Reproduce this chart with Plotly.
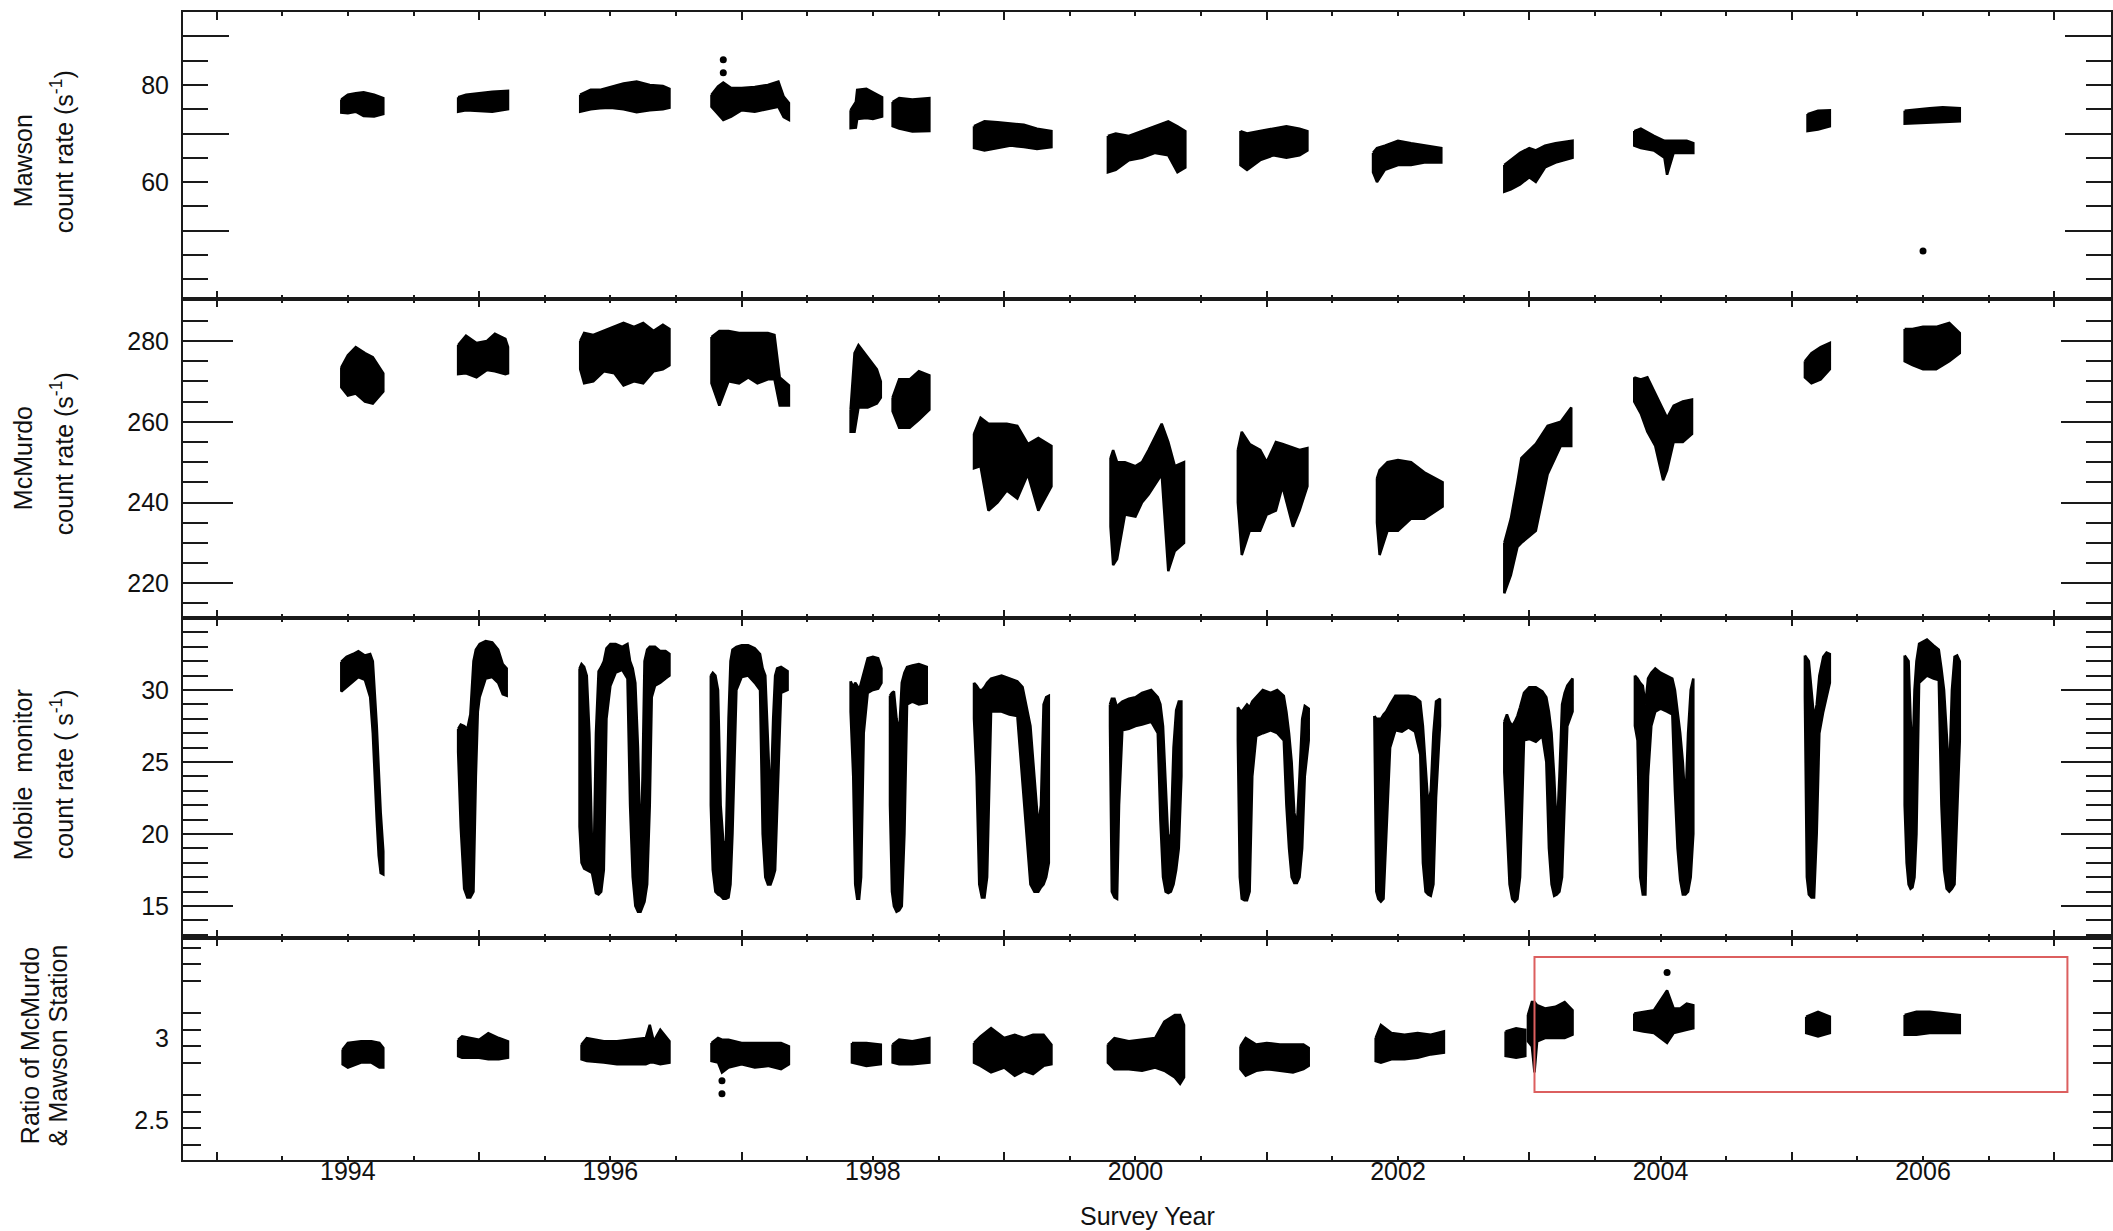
import plotly.graph_objects as go

# Count-rate bands for each survey season: decimal year, low and high of the
# scatter at that time.  None separates one season from the next.

mawson_time = [1993.95, 1994.0, 1994.06, 1994.12, 1994.2, 1994.27, None,
               1994.84, 1994.9, 1995.0, 1995.1, 1995.22, None,
               1995.77, 1995.85, 1995.92, 1996.0, 1996.1, 1996.2, 1996.3, 1996.4, 1996.45, None,
               1996.77, 1996.82, 1996.86, 1996.92, 1997.0, 1997.1, 1997.2, 1997.28, 1997.32, 1997.36, None,
               1997.83, 1997.87, 1997.88, 1997.95, 1998.0, 1998.07, None,
               1998.15, 1998.2, 1998.3, 1998.43, None,
               1998.77, 1998.85, 1998.95, 1999.05, 1999.15, 1999.25, 1999.36, None,
               1999.79, 1999.85, 1999.95, 2000.05, 2000.15, 2000.25, 2000.32, 2000.38, None,
               2000.8, 2000.85, 2000.95, 2001.05, 2001.15, 2001.25, 2001.31, None,
               2001.81, 2001.84, 2001.9, 2002.0, 2002.1, 2002.2, 2002.33, None,
               2002.81, 2002.86, 2002.93, 2003.0, 2003.05, 2003.12, 2003.2, 2003.33, None,
               2003.8, 2003.85, 2003.95, 2004.03, 2004.05, 2004.1, 2004.2, 2004.25, None,
               2005.12, 2005.2, 2005.29, None,
               2005.86, 2005.95, 2006.05, 2006.15, 2006.28]
mawson_low = [74.3, 74.2, 74.5, 73.6, 73.5, 74.0, None,
              74.5, 74.8, 74.6, 74.5, 75.0, None,
              74.5, 75.0, 75.2, 75.3, 75.0, 74.4, 74.8, 75.0, 75.3, None,
              75.5, 74.0, 72.8, 73.5, 74.8, 74.5, 75.0, 75.5, 73.4, 72.8, None,
              71.1, 71.2, 73.0, 73.2, 73.0, 73.5, None,
              71.5, 71.0, 70.4, 70.5, None,
              67.0, 66.5, 67.0, 67.5, 67.2, 66.8, 67.2, None,
              62.0, 62.5, 64.5, 65.0, 66.0, 65.5, 62.0, 63.0, None,
              63.5, 62.5, 64.5, 65.5, 65.0, 65.5, 66.5, None,
              62.0, 60.0, 62.5, 63.5, 63.5, 64.0, 64.0, None,
              58.0, 58.5, 59.5, 61.0, 60.0, 63.0, 64.0, 65.0, None,
              67.5, 67.0, 66.5, 65.0, 61.5, 66.0, 66.0, 66.0, None,
              70.5, 70.8, 71.5, None,
              72.0, 72.0, 72.2, 72.3, 72.5]
mawson_high = [77.0, 78.0, 78.3, 78.5, 78.0, 77.3, None,
               77.5, 78.0, 78.3, 78.6, 78.8, None,
               78.0, 79.0, 79.0, 79.6, 80.3, 80.7, 80.0, 79.8, 79.2, None,
               78.0, 79.7, 80.5, 79.4, 79.4, 79.6, 80.0, 80.7, 77.6, 76.3, None,
               74.8, 76.5, 79.0, 79.2, 78.5, 77.5, None,
               76.5, 77.3, 77.0, 77.3, None,
               71.5, 72.5, 72.3, 72.0, 71.8, 71.0, 70.5, None,
               69.5, 70.0, 69.5, 70.5, 71.5, 72.5, 71.5, 70.5, None,
               70.5, 70.0, 70.5, 71.0, 71.5, 71.0, 70.5, None,
               66.0, 67.0, 67.5, 68.5, 68.0, 67.5, 67.0, None,
               63.5, 64.5, 66.0, 67.0, 66.5, 67.5, 68.0, 68.5, None,
               70.5, 71.0, 69.5, 68.5, 68.5, 68.5, 68.5, 68.0, None,
               74.0, 74.7, 74.8, None,
               74.7, 75.0, 75.2, 75.4, 75.2]
mawson_spike_time = [1996.86, 1996.86, 2006.0]
mawson_spike_rate = [85.2, 82.5, 45.8]

mcmurdo_time = [1993.95, 1994.0, 1994.06, 1994.13, 1994.19, 1994.27, None,
                1994.84, 1994.9, 1994.98, 1995.06, 1995.12, 1995.2, 1995.22, None,
                1995.77, 1995.8, 1995.87, 1995.95, 1996.03, 1996.1, 1996.18, 1996.25, 1996.33, 1996.4, 1996.45, None,
                1996.77, 1996.83, 1996.9, 1996.98, 1997.05, 1997.12, 1997.2, 1997.25, 1997.29, 1997.36, None,
                1997.83, 1997.86, 1997.89, 1997.96, 1998.03, 1998.06, None,
                1998.15, 1998.2, 1998.28, 1998.35, 1998.43, None,
                1998.77, 1998.82, 1998.88, 1998.95, 1999.02, 1999.1, 1999.18, 1999.26, 1999.36, None,
                1999.81, 1999.83, 1999.86, 1999.92, 2000.0, 2000.05, 2000.1, 2000.2, 2000.25, 2000.3, 2000.37, None,
                2000.78, 2000.81, 2000.87, 2000.95, 2001.0, 2001.07, 2001.12, 2001.2, 2001.25, 2001.31, None,
                2001.84, 2001.86, 2001.92, 2002.0, 2002.1, 2002.2, 2002.34, None,
                2002.81, 2002.86, 2002.91, 2002.94, 2003.05, 2003.14, 2003.24, 2003.32, None,
                2003.8, 2003.85, 2003.9, 2003.96, 2004.02, 2004.05, 2004.1, 2004.17, 2004.24, None,
                2005.1, 2005.15, 2005.22, 2005.29, None,
                2005.86, 2005.92, 2006.0, 2006.1, 2006.2, 2006.28]
mcmurdo_low = [268.5, 266.5, 267.0, 265.0, 264.5, 267.5, None,
               271.8, 272.0, 271.0, 272.8, 272.5, 271.8, 272.0, None,
               273.0, 269.5, 270.0, 272.5, 272.0, 269.0, 270.0, 269.5, 272.5, 273.0, 274.0, None,
               269.5, 264.0, 270.0, 269.5, 271.0, 269.5, 270.5, 270.5, 264.0, 264.0, None,
               257.5, 257.5, 263.5, 263.5, 264.5, 266.0, None,
               262.6, 258.5, 258.5, 260.5, 263.0, None,
               248.5, 249.0, 238.0, 240.0, 243.0, 241.0, 247.0, 238.0, 244.0, None,
               234.0, 224.5, 226.0, 237.0, 236.5, 240.0, 242.0, 247.0, 223.0, 228.0, 230.0, None,
               240.0, 227.0, 233.0, 233.0, 237.0, 238.0, 244.0, 234.0, 238.0, 244.0, None,
               235.0, 227.0, 233.0, 233.0, 236.0, 236.0, 239.0, None,
               217.5, 222.0, 229.0, 230.0, 233.0, 247.0, 254.0, 254.0, None,
               265.0, 262.0, 257.5, 254.0, 245.5, 248.0, 255.0, 255.0, 257.0, None,
               271.0, 269.5, 270.5, 273.0, None,
               275.0, 274.0, 273.0, 273.0, 275.0, 277.0]
mcmurdo_high = [273.5, 276.5, 278.5, 277.0, 276.0, 272.0, None,
                279.0, 281.3, 279.5, 280.0, 281.8, 280.5, 278.5, None,
                280.0, 282.0, 281.5, 282.5, 283.5, 284.5, 283.5, 284.5, 282.5, 284.0, 283.0, None,
                281.0, 282.5, 282.5, 282.0, 282.0, 282.0, 282.0, 281.5, 271.0, 269.0, None,
                263.0, 277.0, 279.0, 276.0, 273.0, 270.0, None,
                266.0, 270.5, 270.5, 272.5, 271.5, None,
                257.0, 261.0, 259.5, 259.5, 259.5, 259.0, 254.5, 256.0, 254.0, None,
                251.0, 253.0, 250.0, 250.0, 249.0, 250.0, 253.0, 259.5, 255.0, 249.0, 250.0, None,
                253.0, 257.5, 254.5, 253.0, 250.0, 255.0, 254.5, 253.5, 253.0, 253.5, None,
                246.0, 248.0, 250.0, 250.5, 250.0, 247.5, 245.0, None,
                230.0, 236.0, 245.0, 251.0, 254.5, 259.0, 260.0, 263.5, None,
                271.0, 270.5, 271.0, 267.0, 263.0, 261.0, 264.0, 265.0, 265.5, None,
                275.0, 277.0, 278.5, 279.5, None,
                283.0, 283.0, 283.5, 283.5, 284.5, 282.0]

mobile_time = [1993.95, 1993.99, 1994.04, 1994.08, 1994.13, 1994.17, 1994.19, 1994.205, 1994.22, 1994.235, 1994.25, 1994.27, None,
               1994.84, 1994.86, 1994.886, 1994.91, 1994.933, 1994.957, 1994.975, 1994.99, 1995.004, 1995.05, 1995.1, 1995.145, 1995.18, 1995.21, None,
               1995.765, 1995.78, 1995.8, 1995.82, 1995.84, 1995.86, 1995.875, 1995.89, 1995.91, 1995.93, 1995.95, 1995.97,
               1996.0, 1996.04, 1996.09, 1996.13, 1996.15, 1996.17, 1996.19, 1996.21, 1996.23, 1996.245, 1996.26, 1996.28,
               1996.3, 1996.315, 1996.34, 1996.38, 1996.42, 1996.45, None,
               1996.765, 1996.78, 1996.8, 1996.82, 1996.84, 1996.86, 1996.88, 1996.9, 1996.915, 1996.93, 1996.96, 1997.0,
               1997.05, 1997.1, 1997.14, 1997.16, 1997.18, 1997.2, 1997.22, 1997.24, 1997.255, 1997.27, 1997.3, 1997.35, None,
               1997.83, 1997.85, 1997.865, 1997.88, 1997.895, 1997.91, 1997.93, 1997.96, 1998.0, 1998.04, 1998.065, None,
               1998.13, 1998.145, 1998.16, 1998.18, 1998.2, 1998.22, 1998.24, 1998.26, 1998.3, 1998.35, 1998.41, None,
               1998.77, 1998.79, 1998.81, 1998.83, 1998.85, 1998.87, 1998.9, 1998.98, 1999.04, 1999.1, 1999.14, 1999.17,
               1999.2, 1999.23, 1999.26, 1999.28, 1999.3, 1999.32, 1999.34, None,
               1999.806, 1999.82, 1999.84, 1999.86, 1999.875, 1999.9, 1999.95, 2000.0, 2000.05, 2000.12, 2000.17, 2000.19,
               2000.21, 2000.23, 2000.25, 2000.27, 2000.29, 2000.31, 2000.33, 2000.35, None,
               2000.78, 2000.795, 2000.81, 2000.83, 2000.85, 2000.87, 2000.89, 2000.92, 2000.97, 2001.03, 2001.08, 2001.13,
               2001.15, 2001.17, 2001.19, 2001.21, 2001.23, 2001.25, 2001.27, 2001.29, 2001.32, None,
               2001.82, 2001.835, 2001.85, 2001.87, 2001.89, 2001.91, 2001.94, 2001.98, 2002.03, 2002.08, 2002.13, 2002.17,
               2002.19, 2002.21, 2002.23, 2002.25, 2002.27, 2002.29, 2002.32, None,
               2002.81, 2002.83, 2002.85, 2002.87, 2002.89, 2002.91, 2002.93, 2002.96, 2003.0, 2003.05, 2003.1, 2003.13,
               2003.15, 2003.17, 2003.19, 2003.21, 2003.23, 2003.25, 2003.27, 2003.29, 2003.33, None,
               2003.805, 2003.825, 2003.845, 2003.865, 2003.885, 2003.905, 2003.93, 2003.96, 2004.0, 2004.05, 2004.09, 2004.11,
               2004.13, 2004.15, 2004.17, 2004.19, 2004.21, 2004.23, 2004.25, None,
               2005.1, 2005.115, 2005.13, 2005.15, 2005.17, 2005.19, 2005.21, 2005.24, 2005.265, 2005.29, None,
               2005.86, 2005.875, 2005.89, 2005.905, 2005.92, 2005.935, 2005.95, 2005.97, 2006.03, 2006.08, 2006.12, 2006.14,
               2006.16, 2006.18, 2006.2, 2006.22, 2006.24, 2006.26, 2006.28]
mobile_low = [29.9, 30.2, 30.6, 30.9, 30.7, 29.5, 27.0, 24.0, 21.0, 18.5, 17.3, 17.2, None,
              25.7, 20.5, 16.2, 15.6, 15.6, 16.0, 24.0, 28.5, 29.5, 30.8, 30.9, 30.5, 29.7, 29.6, None,
              20.5, 18.0, 17.6, 17.5, 17.4, 17.3, 16.5, 15.9, 15.8, 16.0, 17.5, 28.0,
              30.3, 31.2, 31.4, 30.8, 22.0, 17.0, 15.0, 14.6, 14.6, 15.0, 15.3, 16.5,
              22.0, 29.5, 30.3, 30.5, 30.8, 31.0, None,
              22.0, 17.5, 16.0, 15.8, 15.7, 15.5, 15.5, 15.6, 16.5, 20.0, 30.0, 30.9,
              31.0, 30.5, 30.0, 20.0, 17.0, 16.5, 16.5, 17.0, 17.5, 22.0, 29.8, 30.0, None,
              28.5, 24.0, 16.5, 15.5, 15.5, 17.0, 27.0, 29.8, 30.0, 30.1, 30.5, None,
              22.0, 16.0, 15.0, 14.6, 14.7, 15.0, 20.0, 29.0, 29.2, 29.0, 29.1, None,
              28.0, 24.0, 16.5, 15.6, 15.6, 17.0, 28.5, 28.5, 28.3, 28.2, 24.0, 20.0,
              16.5, 16.0, 16.0, 16.3, 16.5, 17.0, 18.0, None,
              27.5, 16.0, 15.6, 15.5, 22.0, 27.2, 27.3, 27.5, 27.6, 27.8, 27.0, 21.0,
              17.0, 16.0, 15.9, 16.0, 16.5, 17.5, 19.0, 24.0, None,
              26.5, 17.0, 15.5, 15.4, 15.4, 16.0, 24.0, 26.8, 27.0, 27.2, 27.0, 26.5,
              22.0, 19.0, 17.0, 16.6, 16.6, 17.0, 19.0, 24.0, 26.5, None,
              26.0, 16.0, 15.5, 15.3, 15.5, 20.0, 26.0, 27.2, 27.1, 27.4, 27.1, 25.5,
              18.0, 16.0, 15.8, 15.7, 16.5, 22.5, 27.5, None,
              24.3, 21.0, 16.5, 15.5, 15.3, 15.5, 17.0, 26.5, 26.6, 26.4, 26.8, 25.0,
              19.0, 16.5, 15.7, 15.8, 16.0, 17.0, 22.0, 27.5, 28.5, None,
              27.5, 26.5, 17.0, 15.8, 15.8, 24.0, 27.5, 28.5, 28.7, 28.5, 28.3, 23.0,
              19.0, 16.8, 15.8, 15.8, 16.0, 17.0, 20.0, None,
              29.5, 17.0, 15.8, 15.6, 15.6, 20.0, 27.0, 28.5, 29.5, 30.5, None,
              22.0, 18.0, 16.5, 16.2, 16.3, 17.0, 20.0, 30.5, 31.0, 30.8, 30.7, 22.0,
              17.5, 16.2, 16.0, 16.2, 16.5, 22.0, 26.5]
mobile_high = [31.97, 32.3, 32.5, 32.7, 32.4, 32.5, 32.0, 30.0, 27.5, 24.5, 21.5, 18.8, None,
               27.3, 27.6, 27.5, 27.3, 28.3, 32.0, 32.8, 33.0, 33.2, 33.4, 33.3, 32.8, 31.8, 31.5, None,
               31.5, 31.8, 31.6, 31.0, 27.0, 19.2, 19.0, 27.0, 31.3, 31.6, 32.0, 32.9,
               33.2, 33.2, 33.0, 33.2, 32.0, 31.5, 30.5, 26.0, 18.5, 24.0, 32.0, 32.8,
               33.0, 33.0, 33.0, 32.7, 32.7, 32.5, None,
               31.0, 31.2, 31.0, 30.0, 22.0, 19.5, 19.2, 28.0, 32.0, 32.8, 33.0, 33.1,
               33.1, 32.9, 32.5, 31.5, 31.0, 27.0, 22.0, 28.0, 31.0, 31.5, 31.6, 31.3, None,
               30.6, 30.2, 30.5, 30.3, 30.0, 30.5, 31.2, 32.2, 32.3, 32.2, 31.5, None,
               29.6, 29.8, 29.9, 28.0, 27.0, 30.5, 31.2, 31.6, 31.7, 31.8, 31.6, None,
               30.5, 30.3, 30.0, 30.0, 30.2, 30.5, 30.8, 31.0, 30.8, 30.6, 30.2, 28.8,
               27.5, 24.0, 20.5, 22.0, 29.0, 29.5, 29.6, None,
               29.0, 29.4, 29.4, 28.8, 29.0, 29.2, 29.4, 29.5, 29.8, 30.0, 29.5, 29.0,
               27.5, 24.0, 19.5, 20.0, 26.0, 28.6, 29.2, 29.2, None,
               28.8, 28.6, 28.5, 28.8, 29.0, 28.8, 29.2, 29.5, 30.0, 29.8, 30.0, 29.6,
               28.5, 27.0, 25.0, 21.5, 20.5, 24.0, 28.0, 28.9, 28.7, None,
               28.2, 28.0, 28.0, 28.0, 28.3, 28.5, 29.0, 29.6, 29.6, 29.6, 29.5, 29.2,
               27.5, 25.0, 22.0, 23.0, 27.0, 29.2, 29.4, None,
               27.8, 28.3, 27.8, 27.5, 27.8, 28.2, 28.8, 29.8, 30.2, 30.2, 29.9, 29.5,
               28.5, 27.0, 24.0, 20.0, 24.0, 29.0, 29.8, 30.3, 30.8, None,
               31.0, 30.8, 30.5, 30.3, 29.0, 30.8, 31.2, 31.5, 31.2, 31.0, 30.8, 30.0,
               28.5, 27.0, 25.0, 22.0, 27.0, 30.0, 30.8, None,
               32.4, 32.2, 32.0, 30.0, 28.0, 29.0, 31.0, 32.3, 32.6, 32.5, None,
               32.4, 32.2, 32.0, 28.0, 25.0, 30.0, 32.0, 33.2, 33.5, 33.1, 32.8, 31.5,
               30.0, 27.0, 24.0, 30.0, 32.3, 32.4, 32.0]

ratio_time = [1993.96, 1994.0, 1994.1, 1994.18, 1994.24, 1994.27, None,
              1994.84, 1994.87, 1995.0, 1995.07, 1995.15, 1995.22, None,
              1995.78, 1995.82, 1995.95, 1996.05, 1996.15, 1996.27, 1996.3, 1996.33, 1996.38, 1996.45, None,
              1996.77, 1996.82, 1996.85, 1996.9, 1997.0, 1997.1, 1997.2, 1997.3, 1997.36, None,
              1997.84, 1997.95, 1998.06, None,
              1998.15, 1998.2, 1998.3, 1998.43, None,
              1998.77, 1998.82, 1998.9, 1999.0, 1999.08, 1999.15, 1999.22, 1999.3, 1999.36, None,
              1999.79, 1999.84, 1999.95, 2000.05, 2000.15, 2000.22, 2000.3, 2000.34, 2000.37, None,
              2000.8, 2000.84, 2000.92, 2001.0, 2001.1, 2001.2, 2001.28, 2001.32, None,
              2001.83, 2001.87, 2001.95, 2002.05, 2002.15, 2002.25, 2002.35, None,
              2002.82, 2002.9, 2002.97, None,
              2002.99, 2003.02, 2003.04, 2003.06, 2003.12, 2003.2, 2003.27, 2003.33, None,
              2003.8, 2003.87, 2003.95, 2004.05, 2004.1, 2004.15, 2004.2, 2004.25, None,
              2005.11, 2005.2, 2005.29, None,
              2005.86, 2005.95, 2006.05, 2006.15, 2006.28]
ratio_low = [2.84, 2.82, 2.85, 2.85, 2.82, 2.82, None,
             2.89, 2.88, 2.88, 2.87, 2.87, 2.88, None,
             2.87, 2.86, 2.85, 2.84, 2.84, 2.84, 2.85, 2.85, 2.84, 2.85, None,
             2.86, 2.85, 2.79, 2.82, 2.84, 2.82, 2.83, 2.81, 2.84, None,
             2.85, 2.83, 2.84, None,
             2.85, 2.84, 2.84, 2.85, None,
             2.85, 2.83, 2.79, 2.82, 2.77, 2.80, 2.78, 2.83, 2.84, None,
             2.85, 2.81, 2.81, 2.80, 2.82, 2.80, 2.76, 2.72, 2.76, None,
             2.81, 2.77, 2.80, 2.81, 2.80, 2.79, 2.81, 2.83, None,
             2.86, 2.85, 2.87, 2.87, 2.88, 2.90, 2.91, None,
             2.89, 2.88, 2.89, None,
             2.98, 2.95, 2.79, 2.98, 3.00, 3.00, 3.00, 3.02, None,
             3.05, 3.04, 3.03, 2.97, 3.03, 3.04, 3.05, 3.06, None,
             3.03, 3.01, 3.03, None,
             3.02, 3.02, 3.03, 3.03, 3.03]
ratio_high = [2.93, 2.97, 2.98, 2.98, 2.97, 2.94, None,
              2.99, 3.01, 2.99, 3.03, 3.00, 2.98, None,
              2.96, 3.00, 2.98, 2.98, 2.99, 3.00, 3.08, 2.98, 3.05, 2.98, None,
              2.97, 3.00, 2.99, 2.99, 2.97, 2.97, 2.97, 2.97, 2.95, None,
              2.97, 2.97, 2.96, None,
              2.96, 2.99, 2.98, 3.00, None,
              2.97, 3.01, 3.06, 3.00, 3.02, 3.00, 3.02, 3.02, 2.96, None,
              2.96, 3.00, 2.98, 2.99, 3.00, 3.10, 3.14, 3.14, 3.08, None,
              2.95, 3.00, 2.96, 2.97, 2.96, 2.96, 2.96, 2.94, None,
              3.00, 3.08, 3.03, 3.02, 3.03, 3.02, 3.04, None,
              3.04, 3.06, 3.05, None,
              3.14, 3.22, 3.22, 3.20, 3.18, 3.19, 3.22, 3.17, None,
              3.15, 3.16, 3.17, 3.29, 3.18, 3.18, 3.21, 3.20, None,
              3.13, 3.16, 3.13, None,
              3.14, 3.16, 3.16, 3.15, 3.14]
ratio_spike_time = [1996.85, 1996.85, 2004.05]
ratio_spike_value = [2.74, 2.66, 3.40]

# Axis tick values
year_labels = [1994, 1996, 1998, 2000, 2002, 2004, 2006]
mawson_labels = [60, 80]
mcmurdo_labels = [220, 240, 260, 280]
mobile_labels = [15, 20, 25, 30]
ratio_labels = [2.5, 3.0]

INK = "#1a1a1a"
FONT = "Liberation Sans, Arial, Helvetica, sans-serif"

W, H = 2113, 1231
ML, MR, MT, MB = 183, 0, 12, 71
PW, PH = W - ML - MR, H - MT - MB
X_RANGE = [1992.744, 1992.744 + PW / 131.4]

# panel pixel edges (top, bottom)
panels = [(12, 299), (299, 618), (618, 938), (938, 1160)]


def dom(top, bottom):
    return [(H - MB - bottom) / PH, (H - MB - top) / PH]


def season_polygons(time, low, high):
    xs, ys, seg = [], [], []

    def flush():
        if seg:
            t = [p[0] for p in seg]
            lo = [p[1] for p in seg]
            hi = [p[2] for p in seg]
            xs.extend(t + t[::-1] + [t[0], None])
            ys.extend(hi + lo[::-1] + [hi[0], None])
            seg.clear()

    for t, lo, hi in zip(time, low, high):
        if t is None:
            flush()
        else:
            seg.append((t, lo, hi))
    flush()
    return xs, ys


fig = go.Figure()

series = [(mawson_time, mawson_low, mawson_high, "x", "y"),
          (mcmurdo_time, mcmurdo_low, mcmurdo_high, "x2", "y2"),
          (mobile_time, mobile_low, mobile_high, "x3", "y3"),
          (ratio_time, ratio_low, ratio_high, "x4", "y4")]
for t, lo, hi, xa, ya in series:
    px, py = season_polygons(t, lo, hi)
    fig.add_trace(go.Scatter(x=px, y=py, mode="lines", fill="toself",
                             fillcolor="black", line=dict(color="black", width=2.5),
                             xaxis=xa, yaxis=ya, hoverinfo="skip"))

fig.add_trace(go.Scatter(x=mawson_spike_time, y=mawson_spike_rate, mode="markers",
                         marker=dict(color="black", size=7), xaxis="x", yaxis="y"))
fig.add_trace(go.Scatter(x=ratio_spike_time, y=ratio_spike_value, mode="markers",
                         marker=dict(color="black", size=7), xaxis="x4", yaxis="y4"))

# x ticks: short ticks every half year (labels on even years), longer on odd years
half_years = [1993 + 0.5 * k for k in range(30) if (1993 + 0.5 * k) % 2 != 1]
odd_years = list(range(1993, 2008, 2))
xtext = [str(int(v)) if v in year_labels else "" for v in half_years]

common = dict(showline=True, linecolor=INK, linewidth=2, mirror="ticks",
              ticks="inside", tickcolor=INK, tickwidth=2, showgrid=False,
              zeroline=False, tickfont=dict(family=FONT, size=25, color="#111"))

layout = dict(width=W, height=H, margin=dict(l=ML, r=MR, t=MT, b=MB),
              paper_bgcolor="white", plot_bgcolor="white", showlegend=False)

for i, (top, bot) in enumerate(panels):
    sfx = "" if i == 0 else str(i + 1)
    layout["xaxis" + sfx] = dict(
        common, range=X_RANGE, anchor="y" + sfx, domain=[0, 1],
        tickmode="array", tickvals=half_years, ticktext=xtext, ticklen=4,
        showticklabels=(i == 3), ticklabelstandoff=-12,
        minor=dict(tickmode="array", tickvals=odd_years, ticks="inside",
                   ticklen=8, tickcolor=INK, tickwidth=2))

# Mawson: labels on 60/80, long ticks on 50/70/90
m_short = [40, 45, 55, 60, 65, 75, 80, 85, 95]
layout["yaxis"] = dict(
    common, domain=dom(*panels[0]), range=[35.88, 95.05], anchor="x",
    tickmode="array", tickvals=m_short,
    ticktext=[str(v) if v in mawson_labels else "" for v in m_short], ticklen=25,
    ticklabelstandoff=7,
    minor=dict(tickmode="array", tickvals=[50, 70, 90], ticks="inside",
               ticklen=46, tickcolor=INK, tickwidth=2))

layout["yaxis2"] = dict(
    common, domain=dom(*panels[1]), range=[211.4, 290.4], anchor="x2",
    tickmode="array", tickvals=mcmurdo_labels, ticklen=50, ticklabelstandoff=7,
    minor=dict(tickmode="array",
               tickvals=[v for v in range(215, 290, 5) if v not in mcmurdo_labels],
               ticks="inside", ticklen=25, tickcolor=INK, tickwidth=2))

layout["yaxis3"] = dict(
    common, domain=dom(*panels[2]), range=[12.78, 35.0], anchor="x3",
    tickmode="array", tickvals=mobile_labels, ticklen=50, ticklabelstandoff=7,
    minor=dict(tickmode="array",
               tickvals=[v for v in range(13, 35) if v not in mobile_labels],
               ticks="inside", ticklen=25, tickcolor=INK, tickwidth=2))

r_short = [2.35, 2.45, 2.55, 2.65, 2.85, 2.95, 3.05, 3.15, 3.35, 3.45, 3.55]
layout["yaxis4"] = dict(
    common, domain=dom(*panels[3]), range=[2.256, 3.61], anchor="x4",
    tickmode="array", tickvals=ratio_labels, ticktext=["2.5", "3"],
    tickcolor="rgba(0,0,0,0)", ticklen=18, ticklabelstandoff=7,
    minor=dict(tickmode="array", tickvals=r_short, ticks="inside",
               ticklen=18, tickcolor=INK, tickwidth=2))
layout["yaxis5"] = dict(
    overlaying="y4", anchor="x4", range=[2.256, 3.61], showline=False,
    mirror="ticks", ticks="inside", tickmode="array", tickvals=[2.75, 3.25],
    ticklen=35, tickcolor=INK, tickwidth=2, showticklabels=False,
    showgrid=False, zeroline=False)

fig.update_layout(**layout)


def ann(text, px, py, angle=-90):
    fig.add_annotation(text=text, xref="paper", yref="paper",
                       x=(px - ML) / PW, y=(H - MB - py) / PH,
                       xanchor="center", yanchor="middle", textangle=angle,
                       showarrow=False, font=dict(family=FONT, size=25, color="#111"))


ann("Mawson", 23, 161)
ann("count rate (s<sup>-1</sup>)", 62, 152)
ann("McMurdo", 23, 458)
ann("count rate (s<sup>-1</sup>)", 62, 454)
ann("Mobile\u00a0 monitor", 23, 775)
ann("count rate (\u00a0s<sup>-1</sup>)", 62, 774)
ann("Ratio of McMurdo", 30, 1046)
ann("&amp; Mawson Station", 58, 1045)
ann("Survey Year", 1148, 1216, angle=0)

# highlighted recent seasons in the ratio panel
fig.add_shape(type="rect", xref="x4", yref="y4", x0=2003.04, x1=2007.10,
              y0=2.671, y1=3.494, line=dict(color="rgb(220,95,95)", width=2))

fig.write_html("out.html")
